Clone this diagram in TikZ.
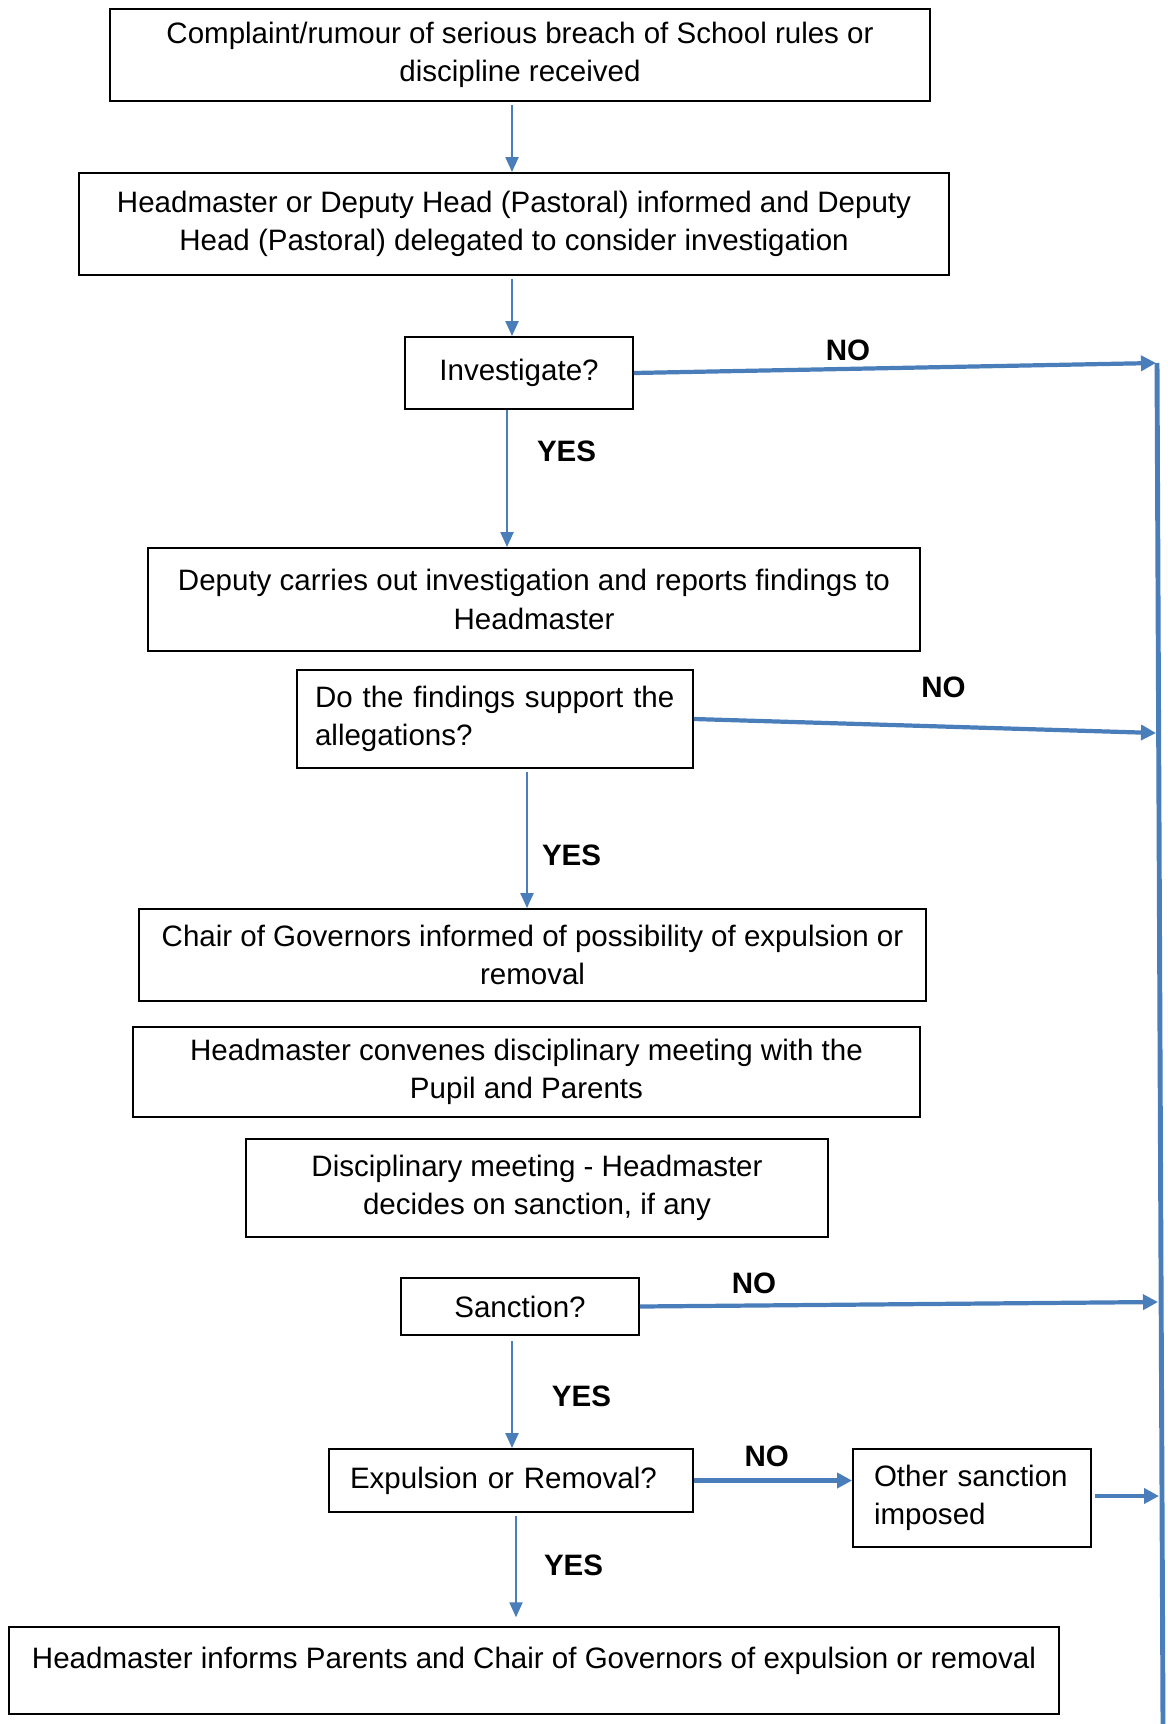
\documentclass[tikz,border=0pt]{standalone}
\usepackage{fontspec}
\setmainfont{Liberation Sans}
\usepackage{xcolor}
\usetikzlibrary{positioning,arrows.meta}
\definecolor{linkblue}{HTML}{4A7EBB}

\begin{document}
\begin{tikzpicture}[x=0.02cm, y=-0.02cm,
  box/.style={draw, line width=1.1pt, align=center, inner sep=0pt, font=\fontsize{16.8pt}{22pt}\selectfont},
  leftbox/.style={box, align=left, inner xsep=0.42cm},
  flow/.style={linkblue, line width=1.3pt, -{Triangle[length=0.3cm,width=0.26cm]}},
  nolink/.style={linkblue, line width=2.4pt, -{Triangle[length=0.3cm,width=0.3cm]}},
  lbl/.style={text=black, font=\fontsize{16.8pt}{22pt}\selectfont\bfseries}]

\useasboundingbox (0,0) rectangle (1168,1724);

\node[box, minimum width=16.4cm, minimum height=1.84cm] (start) at (520,55) {Complaint/rumour of serious breach of School rules or\\discipline received};
\node[box, minimum width=17.4cm, minimum height=2.04cm] (inform) at (514,224) {Headmaster or Deputy Head (Pastoral) informed and Deputy\\Head (Pastoral) delegated to consider investigation};
\node[box, minimum width=4.56cm, minimum height=1.44cm] (investigate) at (519,373) {Investigate?};
\node[box, minimum width=15.44cm, minimum height=2.06cm] (deputy) at (534,599.5) {Deputy carries out investigation and reports findings to\\Headmaster};
\node[leftbox, inner xsep=0.36cm, text width=7.2cm, minimum height=1.96cm] (findings) at (495,719) {Do the findings support the\\allegations?};
\node[box, minimum width=15.74cm, minimum height=1.84cm] (chair) at (532.5,955) {Chair of Governors informed of possibility of expulsion or\\removal};
\node[box, minimum width=15.74cm, minimum height=1.8cm] (convene) at (526.5,1072) {Headmaster convenes disciplinary meeting with the\\Pupil and Parents};
\node[box, minimum width=11.64cm, minimum height=1.96cm] (meeting) at (537,1188) {Disciplinary meeting - Headmaster\\decides on sanction, if any};
\node[box, minimum width=4.76cm, minimum height=1.14cm] (sanction) at (520,1306.5) {Sanction?};
\node[leftbox, text width=6.44cm, minimum height=1.26cm] (expulsion) at (511,1480.5) {Expulsion or Removal?};
\node[leftbox, text width=3.92cm, minimum height=1.96cm] (other) at (972,1498) {Other sanction\\imposed};
\node[box, minimum width=21cm, minimum height=1.74cm] (informs) at (534,1670.5) {Headmaster informs Parents and Chair of Governors of expulsion or removal\\[-0.26cm]~};

% right hand rail
\coordinate (railtop) at (1157,363);
\coordinate (railbot) at (1163,1724);
\coordinate (noA) at (1156,363);
\coordinate (noB) at (1156,733);
\coordinate (noC) at (1158,1302);
\coordinate (noD) at (1159,1496);
\draw[linkblue, line width=2.8pt] (railtop) -- (railbot);

\draw[flow, shorten <=2pt] (start.south -| 512,0) -- (inform.north -| 512,0);
\draw[flow, shorten <=2pt] (inform.south -| 512,0) -- (investigate.north -| 512,0);
\draw[flow] (investigate.south -| 507,0) -- (deputy.north -| 507,0)
    node[pos=0.30, right=0.46cm, lbl] {YES};
\draw[flow, shorten <=2pt] (findings.south -| 527,0) -- (chair.north -| 527,0)
    node[pos=0.62, right=0.16cm, lbl] {YES};
\draw[flow, shorten <=3pt] (sanction.south -| 512,0) -- (expulsion.north -| 512,0)
    node[pos=0.54, right=0.66cm, lbl] {YES};
\draw[flow, shorten <=2pt, shorten >=5pt] (expulsion.south -| 516,0) -- (informs.north -| 516,0)
    node[pos=0.46, right=0.42cm, lbl] {YES};

\draw[nolink] (investigate.east) -- (noA)
    node[pos=0.41, above, lbl] {NO};
\draw[nolink] (findings.east) -- (noB)
    node[pos=0.54, above=0.42cm, lbl] {NO};
\draw[nolink] (sanction.east) -- (noC)
    node[pos=0.22, above=0.08cm, lbl] {NO};
\draw[nolink] (expulsion.east) -- (expulsion.east -| other.west)
    node[pos=0.46, above=0.12cm, lbl] {NO};
\draw[nolink, shorten <=2pt] (other.east |- noD) -- (noD);

\end{tikzpicture}
\end{document}
